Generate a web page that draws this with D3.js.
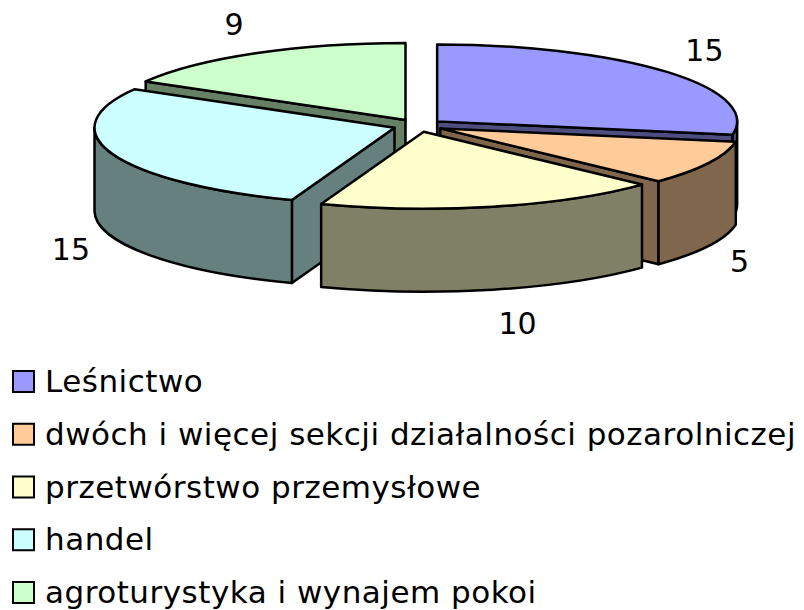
<!DOCTYPE html>
<html>
<head>
<meta charset="utf-8">
<script src="https://cdn.jsdelivr.net/npm/d3@7"></script>
<style>
  body { margin: 0; background: #fff; }
  svg { display: block; }
  text { font-family: "DejaVu Sans", Verdana, sans-serif; fill: #000; }
</style>
</head>
<body>
<div id="chart-area"></div>
<script>
// data
var categories = ["Leśnictwo", "dwóch i więcej sekcji działalności pozarolniczej",
    "przetwórstwo przemysłowe", "handel", "agroturystyka i wynajem pokoi"];
var values = [15, 5, 10, 15, 9];

var width = 804, height = 610;
var topColours = ["#9999ff", "#ffcc99", "#ffffcc", "#ccffff", "#ccffcc"];

var colour = d3.scaleOrdinal().domain(categories).range(topColours);
var shade = function(c){
    var r = d3.rgb(c);
    return d3.rgb(r.r * 0.5, r.g * 0.5, r.b * 0.5).formatHex();
};

// pie geometry
var cx = 418, cy = 125.5, rx = 300, ry = 77, depth = 83, explode = 25;
var k = ry / rx;

var svg = d3.select("#chart-area")
    .append("svg")
    .attr("width", width)
    .attr("height", height);

var rows = categories.map(function(c, i){ return { name: c, value: values[i] }; });
var pie = d3.pie().sort(null).value(d => d.value);
var arcs = pie(rows);

arcs.forEach(function(a){
    a.mid = (a.startAngle + a.endAngle) / 2;
    a.ox = cx + explode * Math.sin(a.mid);
    a.oy = cy - explode * k * Math.cos(a.mid);
});

function pt(a, ang, dz){
    return [a.ox + rx * Math.sin(ang), a.oy - ry * Math.cos(ang) + (dz || 0)];
}

function topPath(a){
    var p0 = pt(a, a.startAngle), p1 = pt(a, a.endAngle);
    var large = (a.endAngle - a.startAngle) > Math.PI ? 1 : 0;
    return "M" + a.ox + "," + a.oy + "L" + p0 + "A" + rx + "," + ry + " 0 " + large + " 1 " + p1 + "Z";
}

function facePath(a, ang){
    var p = pt(a, ang), q = pt(a, ang, depth);
    return "M" + a.ox + "," + a.oy + "L" + p + "L" + q + "L" + a.ox + "," + (a.oy + depth) + "Z";
}

function wallPath(a){
    var s = Math.max(a.startAngle, Math.PI / 2), e = Math.min(a.endAngle, Math.PI * 1.5);
    if (e <= s) return null;
    return "M" + pt(a, s) + "A" + rx + "," + ry + " 0 0 1 " + pt(a, e) +
        "L" + pt(a, e, depth) + "A" + rx + "," + ry + " 0 0 0 " + pt(a, s, depth) + "Z";
}

// back to front
var order = arcs.slice().sort((a, b) => (-Math.cos(a.mid)) - (-Math.cos(b.mid)));

var pieG = svg.append("g")
    .attr("stroke", "#000")
    .attr("stroke-width", 2.5)
    .attr("stroke-linejoin", "round");

order.forEach(function(a){
    var c = colour(a.data.name), dark = shade(c);
    var g = pieG.append("g");
    // cut faces only when they face the viewer
    if (Math.sin(a.startAngle) < -1e-6)
        g.append("path").attr("d", facePath(a, a.startAngle)).attr("fill", dark);
    if (Math.sin(a.endAngle) > 1e-6)
        g.append("path").attr("d", facePath(a, a.endAngle)).attr("fill", dark);
    var w = wallPath(a);
    if (w) g.append("path").attr("d", w).attr("fill", dark);
    g.append("path").attr("d", topPath(a)).attr("fill", c);
});

// value labels
var labels = svg.append("g").attr("font-size", 30);
arcs.forEach(function(a){
    var s = Math.sin(a.mid), c = -Math.cos(a.mid);
    var anchor = pt(a, a.mid, c > 0 ? depth : 0);
    var t = labels.append("text")
        .attr("text-anchor", "middle")
        .text(a.data.value);
    var w = t.node().getComputedTextLength();
    var x = anchor[0] + s * 24 + Math.sign(s) * w / 2;
    var y = anchor[1] + c * 34;
    t.attr("x", x).attr("y", y + 11);
});

// legend
var legY = d3.scaleLinear().domain([0, 1]).range([392, 444.75]);
var legend = svg.append("g");
categories.forEach(function(cat, i){
    var row = legend.append("g")
        .attr("transform", "translate(13," + legY(i) + ")");
    row.append("rect")
        .attr("y", -21)
        .attr("width", 21)
        .attr("height", 21)
        .attr("fill", colour(cat))
        .attr("stroke", "#000")
        .attr("stroke-width", 2);
    row.append("text")
        .attr("x", 32)
        .attr("y", 0)
        .attr("font-size", 31)
        .attr("letter-spacing", 0.5)
        .text(cat);
});
</script>
</body>
</html>
